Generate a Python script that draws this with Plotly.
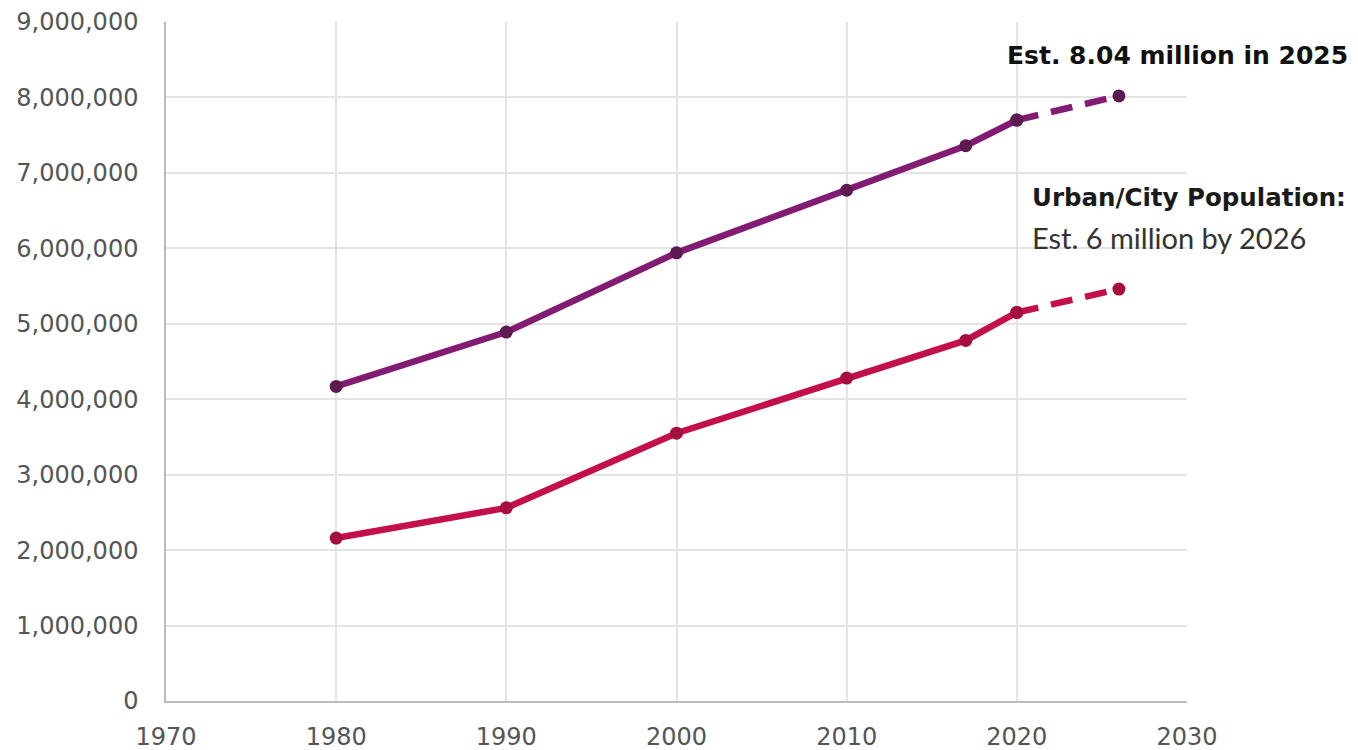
import plotly.graph_objects as go

years_hist = [1980, 1990, 2000, 2010, 2017, 2020]
years_proj = [2020, 2026]
metro_hist = [4170000, 4890000, 5940000, 6770000, 7360000, 7700000]
metro_proj = [7700000, 8020000]
urban_hist = [2160000, 2560000, 3550000, 4280000, 4780000, 5150000]
urban_proj = [5150000, 5460000]

purple = "#821C72"
purple_dark = "#5E1A50"
red = "#C4104A"
red_dark = "#A50E3E"

fig = go.Figure()
for xs, ys, col, mcol, dash in [
    (years_hist, metro_hist, purple, purple_dark, "solid"),
    (years_proj, metro_proj, purple, purple_dark, "22px,13px"),
    (years_hist, urban_hist, red, red_dark, "solid"),
    (years_proj, urban_proj, red, red_dark, "22px,13px"),
]:
    fig.add_trace(go.Scatter(x=xs, y=ys, mode="lines+markers",
                             line=dict(color=col, width=6.5, dash=dash),
                             marker=dict(color=mcol, size=13), showlegend=False))

fig.add_annotation(text="<b>Est. 8.04 million in 2025</b>", xref="paper", yref="paper",
                   x=1.1596, y=0.95, xanchor="right", yanchor="middle", showarrow=False,
                   font=dict(family="DejaVu Sans", size=25, color="#111111"))
fig.add_annotation(text="<b>Urban/City Population:</b>", xref="paper", yref="paper",
                   x=0.846, y=0.741, xanchor="left", yanchor="middle", showarrow=False,
                   font=dict(family="DejaVu Sans", size=24.5, color="#1A1A1A"))
fig.add_annotation(text="Est. 6 million by 2026", xref="paper", yref="paper",
                   x=0.846, y=0.683, xanchor="left", yanchor="middle", showarrow=False,
                   font=dict(family="Lato", size=29, color="#333333"))

fig.update_layout(
    width=1358, height=750,
    margin=dict(l=158, r=179, t=14, b=57),
    paper_bgcolor="white", plot_bgcolor="white",
    font=dict(family="DejaVu Sans", size=24, color="#555555"),
)
fig.update_xaxes(range=[1970, 2030], dtick=10, tick0=1970, showgrid=True, gridcolor="#E3E3E3",
                 gridwidth=1.5, showline=True, linecolor="#BBBBBB", linewidth=1.5, zeroline=False,
                 ticks="", ticklabelstandoff=13, automargin=False,
                 tickfont=dict(size=24, color="#555555"))
fig.update_yaxes(range=[0, 9000000], dtick=1000000, tickformat=",", showgrid=True, gridcolor="#E3E3E3",
                 gridwidth=1.5, showline=True, linecolor="#BBBBBB", linewidth=1.5, zeroline=False,
                 ticks="", ticklabelstandoff=21, automargin=False,
                 tickfont=dict(size=24, color="#555555"))

fig.write_html("out.html")
